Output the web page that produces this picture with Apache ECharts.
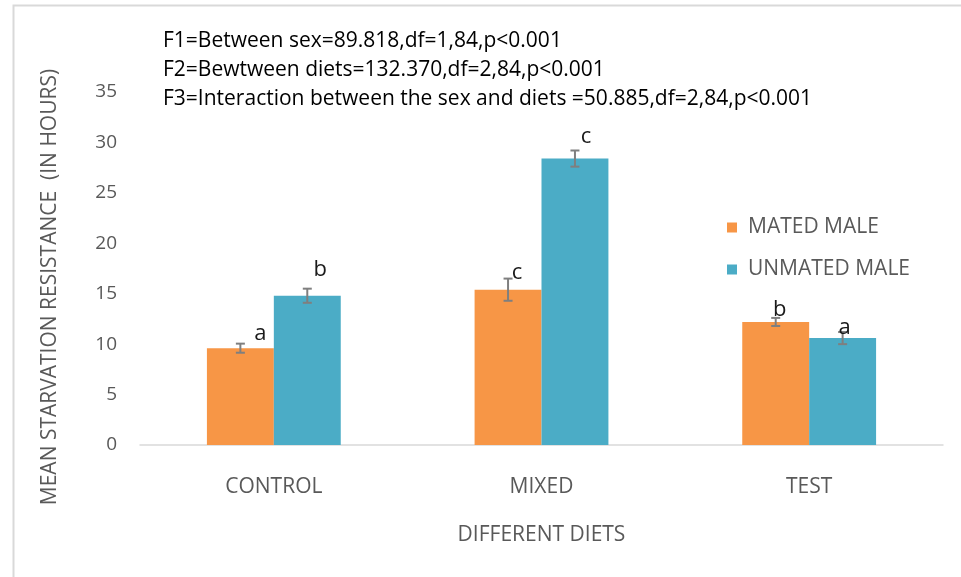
<!DOCTYPE html>
<html>
<head>
<meta charset="utf-8">
<script src="https://cdn.jsdelivr.net/npm/echarts@6/dist/echarts.min.js"></script>
<style>
  html, body { margin: 0; padding: 0; background: #fff; }
  #chart { width: 961px; height: 577px; }
</style>
</head>
<body>
<div id="chart"></div>
<script>
// Diets tested and the two male groups
var diets = ['CONTROL', 'MIXED', 'TEST'];
var seriesNames = ['MATED MALE', 'UNMATED MALE'];

// Mean starvation resistance (hours) and standard errors
var matedMean = [9.6, 15.4, 12.2];
var unmatedMean = [14.8, 28.4, 10.6];
var matedErr = [0.45, 1.1, 0.4];
var unmatedErr = [0.7, 0.8, 0.6];

// Significance letters for each bar
var matedLetters = ['a', 'c', 'b'];
var unmatedLetters = ['b', 'c', 'a'];

// Statistics summary lines
var statLines = [
  'F1=Between sex=89.818,df=1,84,p<0.001',
  'F2=Bewtween diets=132.370,df=2,84,p<0.001',
  'F3=Interaction between the sex and diets =50.885,df=2,84,p<0.001'
];

var yTitle = 'MEAN STARVATION RESISTANCE  (IN HOURS)';
var yTicks = { min: 0, max: 35, interval: 5 };

// Letter placement nudges (px) relative to the error bar top
var matedLetterShift = [[20, -10], [9, -6], [4, -8]];
var unmatedLetterShift = [[13, -19], [11, -14], [2, -4]];

var colors = ['#F79646', '#4BACC6'];
var font = '"Open Sans", Lato, sans-serif';

var chart = echarts.init(document.getElementById('chart'));

function errorSeries(means, errs, letters, shifts, seriesIndex) {
  var data = means.map(function (m, i) { return [i, m, errs[i]]; });
  return {
    type: 'custom',
    name: seriesNames[seriesIndex] + ' SE',
    z: 5,
    data: data,
    encode: { x: 0, y: 1 },
    renderItem: function (params, api) {
      var idx = api.value(0);
      var mean = api.value(1);
      var err = api.value(2);
      var size = api.size([1, 0]);
      var catW = size[0];
      var barW = catW * 0.25;
      var center = api.coord([idx, mean]);
      var xOff = seriesIndex === 0 ? -barW / 2 : barW / 2;
      var x = center[0] + xOff;
      var top = api.coord([idx, mean + err])[1];
      var bot = api.coord([idx, mean - err])[1];
      var cap = 4.5;
      var style = { stroke: '#7f7f7f', lineWidth: 2 };
      var sh = shifts[params.dataIndex];
      return {
        type: 'group',
        children: [
          { type: 'line', shape: { x1: x, y1: top, x2: x, y2: bot }, style: style },
          { type: 'line', shape: { x1: x - cap, y1: top, x2: x + cap, y2: top }, style: style },
          { type: 'line', shape: { x1: x - cap, y1: bot, x2: x + cap, y2: bot }, style: style },
          {
            type: 'text',
            x: x + sh[0],
            y: top + sh[1],
            style: {
              text: letters[params.dataIndex],
              fill: '#1a1a1a',
              font: '22px ' + font,
              align: 'center',
              verticalAlign: 'middle'
            }
          }
        ]
      };
    }
  };
}

var graphics = [
  { type: 'rect', left: 11, top: 3, shape: { x: 0, y: 0, width: 1000, height: 620 },
    style: { fill: 'none', stroke: '#d9d9d9', lineWidth: 2 }, silent: true },
  // vertical value-axis title
  { type: 'text', x: 50, y: 287, rotation: Math.PI / 2,
    style: { text: yTitle, fill: '#595959', font: '21px ' + font,
             align: 'center', verticalAlign: 'middle' } }
];
statLines.forEach(function (t, i) {
  graphics.push({
    type: 'text',
    left: 163,
    top: 31 + i * 29,
    style: { text: t, fill: '#000', font: '21px ' + font }
  });
});

chart.setOption({
  backgroundColor: '#fff',
  animation: false,
  color: colors,
  grid: { left: 140, right: 18, top: 92, bottom: 132, containLabel: false },
  graphic: graphics,
  legend: {
    data: seriesNames,
    orient: 'vertical',
    left: 722,
    top: 212,
    itemWidth: 10,
    itemHeight: 10,
    itemGap: 21,
    icon: 'rect',
    textStyle: { color: '#595959', fontSize: 21, fontFamily: font, padding: [0, 0, 0, 6] }
  },
  xAxis: {
    type: 'category',
    data: diets,
    name: 'DIFFERENT DIETS',
    nameLocation: 'middle',
    nameGap: 80,
    nameTextStyle: { color: '#595959', fontSize: 21, fontFamily: font },
    axisLine: { lineStyle: { color: '#d9d9d9', width: 1.5 } },
    axisTick: { show: false },
    axisLabel: { color: '#595959', fontSize: 21, fontFamily: font, margin: 32 }
  },
  yAxis: {
    type: 'value',
    min: yTicks.min,
    max: yTicks.max,
    interval: yTicks.interval,
    axisLine: { show: false },
    axisTick: { show: false },
    splitLine: { show: false },
    axisLabel: { color: '#595959', fontSize: 19, fontFamily: font, margin: 23 }
  },
  series: [
    { type: 'bar', name: seriesNames[0], data: matedMean, barGap: '0%', barCategoryGap: '50%' },
    { type: 'bar', name: seriesNames[1], data: unmatedMean, barGap: '0%', barCategoryGap: '50%' },
    errorSeries(matedMean, matedErr, matedLetters, matedLetterShift, 0),
    errorSeries(unmatedMean, unmatedErr, unmatedLetters, unmatedLetterShift, 1)
  ]
});
</script>
</body>
</html>
